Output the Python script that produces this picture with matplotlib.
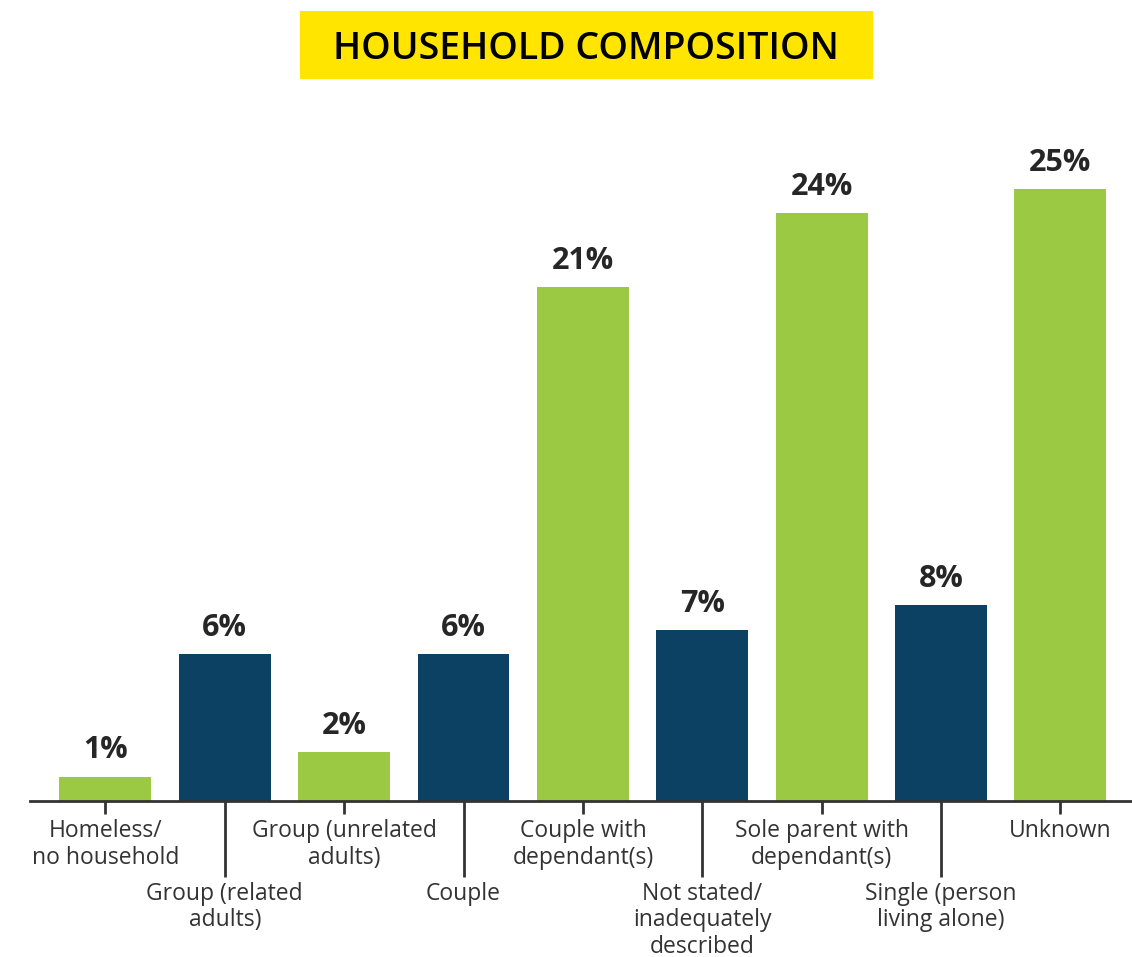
import matplotlib
matplotlib.use("Agg")
import matplotlib.pyplot as plt
from matplotlib.patches import Rectangle

plt.rcParams['font.family'] = ['Open Sans', 'DejaVu Sans']

# household composition shares (%)
categories = ["Homeless/\nno household", "Group (related\nadults)", "Group (unrelated\nadults)",
              "Couple", "Couple with\ndependant(s)", "Not stated/\ninadequately\ndescribed",
              "Sole parent with\ndependant(s)", "Single (person\nliving alone)", "Unknown"]
values = [1, 6, 2, 6, 21, 7, 24, 8, 25]

green = "#9BC943"
navy = "#0C4163"
colors = [green if i % 2 == 0 else navy for i in range(len(values))]

fig = plt.figure(figsize=(11.32, 9.57), dpi=100)
ax = fig.add_axes([0.0265, 0.163, 0.9735, 0.691])

x = list(range(len(values)))
ax.bar(x, values, width=0.77, color=colors, zorder=2)

for xi, v in zip(x, values):
    ax.text(xi, v + 0.45, f"{v}%", ha="center", va="bottom", fontsize=22,
            fontweight="bold", color="#262626")

ax.set_xlim(-0.632, 8.6)
ax.set_ylim(0, 27)

for s in ["top", "right", "left"]:
    ax.spines[s].set_visible(False)
ax.spines["bottom"].set_linewidth(2)
ax.spines["bottom"].set_color("#333333")
ax.spines["bottom"].set_zorder(3)
ax.set_yticks([])

# labels alternate: short ticks (major) on even bars, long ticks (minor) on odd bars
even = x[0::2]
odd = x[1::2]
ax.set_xticks(even)
ax.set_xticklabels(categories[0::2], fontsize=16.5, color="#333333", linespacing=1.15)
ax.set_xticks(odd, minor=True)
ax.set_xticklabels(categories[1::2], minor=True, fontsize=16.5, color="#333333",
                   linespacing=1.15)
ax.tick_params(axis="x", which="major", length=9, width=2, color="#333333", pad=4)
ax.tick_params(axis="x", which="minor", length=55, width=2, color="#333333", pad=3)

# title banner
fig.patches.append(Rectangle((0.265, 0.9175), 0.506, 0.071, transform=fig.transFigure,
                             facecolor="#FFE500", edgecolor="none"))
fig.text(0.518, 0.949, "HOUSEHOLD COMPOSITION", ha="center", va="center",
         fontsize=27, fontweight="semibold", color="black")

fig.savefig("out.png", dpi=100)
